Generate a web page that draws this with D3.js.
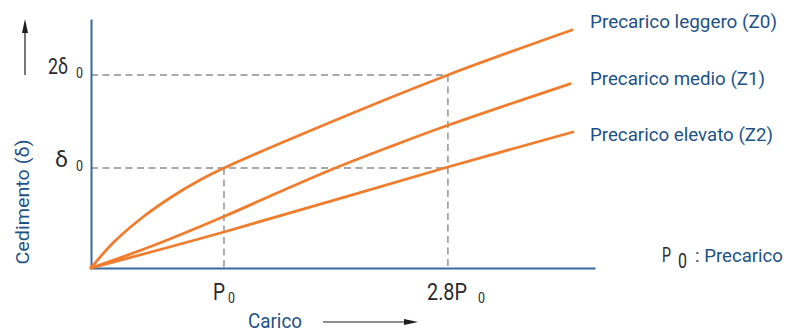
<!DOCTYPE html>
<html>
<head>
<meta charset="utf-8">
<script src="https://cdn.jsdelivr.net/npm/d3@7"></script>
<style>
  html, body { margin: 0; padding: 0; background: #ffffff; }
  svg { display: block; font-family: Roboto, "Liberation Sans", sans-serif; }
</style>
</head>
<body>
<svg id="chart" width="788" height="333"></svg>
<script>
// ---- data (x in units of P0, y in units of δ0) ----
const seriesNames = ["Precarico leggero (Z0)", "Precarico medio (Z1)", "Precarico elevato (Z2)"];
const z0X = [0, 0.165, 0.391, 0.617, 0.82, 1.0, 1.842, 2.684, 3.617];
const z0Y = [0, 0.25, 0.51, 0.72, 0.88, 1.0, 1.48, 1.93, 2.38];
const z1X = [0, 0.444, 1.0, 1.421, 1.797, 2.248, 2.684, 3.602];
const z1Y = [0, 0.212, 0.515, 0.763, 0.978, 1.212, 1.427, 1.842];
const z2X = [0, 1.0, 2.684, 3.624];
const z2Y = [0, 0.36, 1.01, 1.36];
const xTickValues = [1, 2.684];
const xTickLabels = ["P", "2.8P"];
const yTickValues = [1, 1.93];
const yTickLabels = ["δ", "2δ"];
const xMax = 3.79, yMax = 2.49;

const svg = d3.select("#chart");
const orange = "#f07d2e", blue = "#1d5286", axisBlue = "#3569a0", ink = "#2a2a2a", dashGray = "#8c8c8c";

const x = d3.scaleLinear().domain([0, xMax]).range([91, 595]);
const y = d3.scaleLinear().domain([0, yMax]).range([268, 19]);

// dashed reference lines
const gDash = svg.append("g").attr("stroke", dashGray).attr("stroke-width", 1.4)
  .attr("stroke-dasharray", "7,4.5").attr("fill", "none");
yTickValues.forEach(v => {
  gDash.append("line").attr("x1", x(0)).attr("x2", x(xTickValues[1])).attr("y1", y(v)).attr("y2", y(v));
});
xTickValues.forEach((v, i) => {
  gDash.append("line").attr("x1", x(v)).attr("x2", x(v)).attr("y1", y(yTickValues[i])).attr("y2", y(0));
});

// axes
const xAxis = svg.append("g").attr("transform", `translate(0,${y(0)})`)
  .call(d3.axisBottom(x).tickValues([]).tickSizeOuter(0));
const yAxis = svg.append("g").attr("transform", `translate(${x(0)},0)`)
  .call(d3.axisLeft(y).tickValues([]).tickSizeOuter(0));
[xAxis, yAxis].forEach(g => g.select(".domain").attr("stroke", axisBlue).attr("stroke-width", 2));

// curves
const series = [
  z0X.map((v, i) => [v, z0Y[i]]),
  z1X.map((v, i) => [v, z1Y[i]]),
  z2X.map((v, i) => [v, z2Y[i]])
];
const line = d3.line().x(d => x(d[0])).y(d => y(d[1])).curve(d3.curveCatmullRom.alpha(0.5));
svg.append("g").selectAll("path").data(series).join("path")
  .attr("d", line).attr("fill", "none").attr("stroke", orange)
  .attr("stroke-width", 2.8).attr("stroke-linecap", "round");

// series labels
const labelY = [28, 85, 141];
const labelLen = [187, 175, 183];
svg.append("g").selectAll("text").data(seriesNames).join("text")
  .attr("x", 590).attr("y", (d, i) => labelY[i])
  .attr("font-size", 19).attr("fill", blue)
  .attr("textLength", (d, i) => labelLen[i]).attr("lengthAdjust", "spacingAndGlyphs")
  .text(d => d);

// x tick labels
const xLabX = [213, 427], xLabLen = [12, 40], xSubX = [228, 478];
xTickLabels.forEach((t, i) => {
  svg.append("text").attr("x", xLabX[i]).attr("y", 300).attr("font-size", 23).attr("fill", ink)
    .attr("textLength", xLabLen[i]).attr("lengthAdjust", "spacingAndGlyphs").text(t);
  svg.append("text").attr("x", xSubX[i]).attr("y", 303).attr("font-size", 14).attr("fill", ink)
    .attr("textLength", 7).attr("lengthAdjust", "spacingAndGlyphs").text("0");
});

// y tick labels
const yLabX = [55, 48], yLabLen = [13, 20];
yTickLabels.forEach((t, i) => {
  const yy = y(yTickValues[i]);
  svg.append("text").attr("x", yLabX[i]).attr("y", yy - 1).attr("font-size", 22).attr("fill", ink)
    .attr("textLength", yLabLen[i]).attr("lengthAdjust", "spacingAndGlyphs").text(t);
  svg.append("text").attr("x", 76).attr("y", yy + 3).attr("font-size", 14).attr("fill", ink)
    .attr("textLength", 7).attr("lengthAdjust", "spacingAndGlyphs").text("0");
});

// axis titles
svg.append("text").attr("transform", "translate(29,202) rotate(-90)")
  .attr("text-anchor", "middle").attr("font-size", 19).attr("fill", blue)
  .attr("textLength", 125).attr("lengthAdjust", "spacingAndGlyphs").text("Cedimento (δ)");
svg.append("text").attr("x", 248).attr("y", 328).attr("font-size", 20).attr("fill", blue)
  .attr("textLength", 54).attr("lengthAdjust", "spacingAndGlyphs").text("Carico");

// arrows
const arrowG = svg.append("g").attr("fill", "#1e1e1e").attr("stroke", "#1e1e1e");
arrowG.append("line").attr("x1", 25).attr("x2", 25).attr("y1", 75).attr("y2", 30).attr("stroke-width", 1.2);
arrowG.append("path").attr("d", "M25,19 L28,33 L22,33 Z").attr("stroke", "none");
arrowG.append("line").attr("x1", 323).attr("x2", 406).attr("y1", 322).attr("y2", 322).attr("stroke-width", 1.2);
arrowG.append("path").attr("d", "M418,322 L404,319 L404,325 Z").attr("stroke", "none");

// footnote
svg.append("text").attr("x", 662).attr("y", 262).attr("font-size", 20).attr("fill", ink)
  .attr("textLength", 9).attr("lengthAdjust", "spacingAndGlyphs").text("P");
svg.append("text").attr("x", 678).attr("y", 268).attr("font-size", 21).attr("fill", ink)
  .attr("textLength", 9).attr("lengthAdjust", "spacingAndGlyphs").text("0");
svg.append("text").attr("x", 695).attr("y", 262).attr("font-size", 19).attr("fill", blue)
  .attr("textLength", 88).attr("lengthAdjust", "spacingAndGlyphs").text(": Precarico");
</script>
</body>
</html>
